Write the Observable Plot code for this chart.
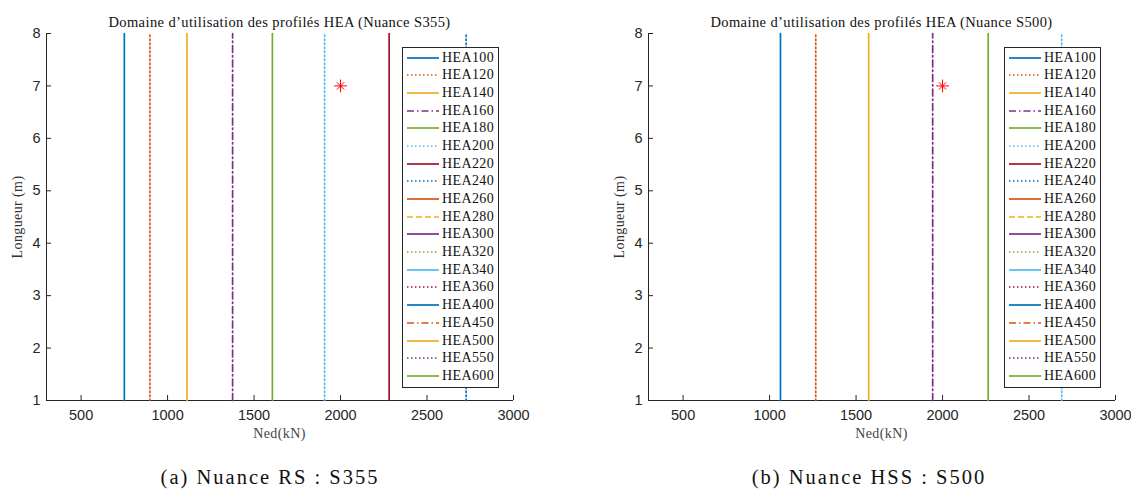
<!DOCTYPE html>
<html><head><meta charset="utf-8">
<script src="https://cdn.jsdelivr.net/npm/d3@7"></script>
<script src="https://cdn.jsdelivr.net/npm/@observablehq/plot@0.6"></script>
<style>
body{margin:0;background:#fff}
#root{position:relative;width:1131px;height:490px;overflow:hidden;background:#fff}
.abs{position:absolute;white-space:nowrap}
.serif{font-family:"Liberation Serif","Times New Roman",serif;color:#111}
.legend{position:absolute;background:#fff;border:1px solid #262626;box-sizing:border-box;padding-top:1px}
.row{height:17.7px;display:flex;align-items:center}
.row svg{margin-left:4px;margin-right:3px;flex:none}
.row span{font-family:"Liberation Serif",serif;font-size:14px;letter-spacing:0.4px;color:#111}
</style></head><body><div id="root"></div>
<script>
// ---- data ----
const profiles = ["HEA100","HEA120","HEA140","HEA160","HEA180","HEA200","HEA220","HEA240","HEA260","HEA280","HEA300","HEA320","HEA340","HEA360","HEA400","HEA450","HEA500","HEA550","HEA600"];
const nedS355 = [750, 898, 1112, 1376, 1606, 1908, 2281, 2726, null, null, null, null, null, null, null, null, null, null, null];
const nedS500 = [1063, 1267, 1573, 1943, 2264, 2689, null, null, null, null, null, null, null, null, null, null, null, null, null];
const lengths = [1, 8];
const xDomain = [300, 3000];
const yDomain = [1, 8];
const xTicks = [500, 1000, 1500, 2000, 2500, 3000];
const yTicks = [1, 2, 3, 4, 5, 6, 7, 8];
const starNed = [2000];
const starL = [7];
const palette = ["#0072BD","#D95319","#EDB120","#7E2F8E","#77AC30","#4DBEEE","#A2142F"];
const lineStyles = ["-",":","-","-.","-",":","-",":","-","--","-",":","-",":","-","-.","-",":","-"];
const titles = ["Domaine d\u2019utilisation des profilés HEA (Nuance S355)", "Domaine d\u2019utilisation des profilés HEA (Nuance S500)"];
const captions = ["(a) Nuance RS : S355", "(b) Nuance HSS : S500"];
const seriesByPanel = [nedS355, nedS500];

// ---- styles ----
const dashes = {"-": null, ":": "1.5,2.5", "--": "6,3", "-.": "7,3,1.5,3"};
const axisColor = "#262626";
const root = document.getElementById("root");

function add(el, cls, css, text) {
  const d = document.createElement("div");
  d.className = cls;
  Object.assign(d.style, css);
  if (text != null) d.textContent = text;
  el.appendChild(d);
  return d;
}

const offsets = [0, 602];
const ML = 46, MT = 33, FW = 467, FH = 367;
const captionCenters = [270, 869];

seriesByPanel.forEach((values, p) => {
  const off = offsets[p];
  const rows = profiles.map((name, i) => ({name, ned: values[i], color: palette[i % 7], style: lineStyles[i]}))
    .filter(d => d.ned != null);
  const lineData = rows.flatMap(d => lengths.map(L => ({...d, L})));
  const marks = [
    Plot.ruleY([yDomain[0]], {stroke: axisColor, strokeWidth: 1}),
    Plot.ruleX([xDomain[0]], {stroke: axisColor, strokeWidth: 1}),
    Plot.tickX(xTicks, {x: d => d, stroke: axisColor, insetTop: FH - 5}),
    Plot.tickY(yTicks, {y: d => d, stroke: axisColor, insetRight: FW - 5}),
    Plot.axisX(xTicks, {tickSize: 0, tickPadding: 9, fontSize: 14.5, label: null, tickFormat: d3.format("d")}),
    Plot.axisY(yTicks, {tickSize: 0, tickPadding: 6, fontSize: 14.5, label: null, tickFormat: d3.format("d")})
  ];
  for (const s of Object.keys(dashes)) {
    const sub = lineData.filter(d => d.style === s);
    if (sub.length) marks.push(Plot.line(sub, {x: "ned", y: "L", z: "name", stroke: "color", strokeWidth: 1.7, strokeDasharray: dashes[s]}));
  }
  const star = starNed.map((n, i) => ({ned: n, L: starL[i]}));
  marks.push(Plot.dot(star, {x: "ned", y: "L", symbol: "plus", stroke: "#FF0000", r: 4.2, strokeWidth: 1}));
  marks.push(Plot.dot(star, {x: "ned", y: "L", symbol: "times", stroke: "#FF0000", r: 3.4, strokeWidth: 1}));
  const chart = Plot.plot({
    width: ML + FW + 40, height: MT + FH + 50,
    marginLeft: ML, marginRight: 40, marginTop: MT, marginBottom: 50,
    x: {domain: xDomain, axis: null},
    y: {domain: yDomain, axis: null},
    color: {type: "identity"},
    style: {fontFamily: "'Liberation Sans', Arial, sans-serif", fontSize: "14px", color: axisColor, background: "transparent", overflow: "visible"},
    marks
  });
  chart.style.position = "absolute";
  chart.style.left = off + "px";
  chart.style.top = "0px";
  root.appendChild(chart);

  // title
  add(root, "abs serif", {left: (off + ML + FW / 2) + "px", top: "14px", transform: "translateX(-50%)", fontSize: "14.5px", letterSpacing: "0.4px", lineHeight: "16px"}, titles[p]);
  // y label
  add(root, "abs serif", {left: (off + 18) + "px", top: (MT + FH / 2) + "px", transform: "translate(-50%,-50%) rotate(-90deg)", fontSize: "14px", letterSpacing: "0.4px", color: "#333", lineHeight: "14px"}, "Longueur (m)");
  // x label
  add(root, "abs serif", {left: (off + ML + FW / 2) + "px", top: "434px", transform: "translate(-50%,-50%)", fontSize: "14px", letterSpacing: "0.4px", color: "#444", lineHeight: "14px"}, "Ned(kN)");
  // caption
  add(root, "abs serif", {left: captionCenters[p] + "px", top: "477px", transform: "translate(-50%,-50%)", fontSize: "20.5px", letterSpacing: "2px", color: "#111", lineHeight: "22px"}, captions[p]);

  // legend
  const lg = add(root, "legend", {left: (off + 402) + "px", top: "46.7px", width: "96.5px", height: "341px"});
  profiles.forEach((name, i) => {
    const r = document.createElement("div");
    r.className = "row";
    const color = palette[i % 7];
    const dash = dashes[lineStyles[i]];
    r.innerHTML = `<svg width="32" height="6"><line x1="0" x2="32" y1="3" y2="3" stroke="${color}" stroke-width="1.7" ${dash ? `stroke-dasharray="${dash}"` : ""}/></svg><span>${name}</span>`;
    lg.appendChild(r);
  });
});
</script></body></html>
